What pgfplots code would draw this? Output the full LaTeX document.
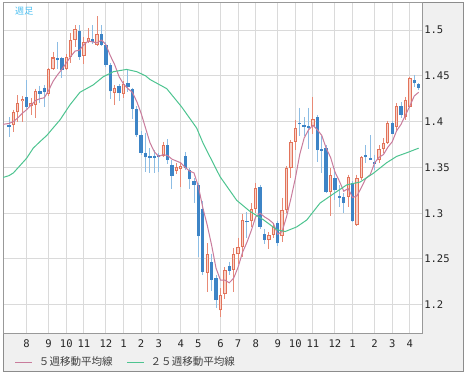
\documentclass[border=0pt]{standalone}
\usepackage{pgfplots}
\pgfplotsset{compat=1.18}
\usepackage{pgfplotstable}
\usepackage{fontspec}
\setmainfont{DejaVu Sans}
\newfontfamily\monofont{DejaVu Sans Mono}
\newfontfamily\cjk{Noto Sans CJK JP}

\definecolor{bggray}{HTML}{F0F0F0}
\definecolor{outergray}{HTML}{8C8C8C}
\definecolor{framegray}{HTML}{999999}
\definecolor{gridgray}{HTML}{DADADA}
\definecolor{upline}{HTML}{E2735A}
\definecolor{upfill}{HTML}{F8D2C8}
\definecolor{upwick}{HTML}{E88A76}
\definecolor{downbody}{HTML}{3D84C6}
\definecolor{downwick}{HTML}{8DBDE4}
\definecolor{maFive}{HTML}{C97C9C}
\definecolor{maTwentyFive}{HTML}{4DC490}
\definecolor{labelcyan}{HTML}{4CC0F2}
\definecolor{legtext}{HTML}{404040}

% weekly candles, rising weeks
\pgfplotstableread{
i o h l c
1 1.396 1.413 1.389 1.410
2 1.410 1.429 1.400 1.420
3 1.422 1.428 1.400 1.425
5 1.417 1.426 1.407 1.420
6 1.418 1.436 1.404 1.433
9 1.430 1.458 1.428 1.457
10 1.457 1.476 1.456 1.470
13 1.457 1.474 1.456 1.471
14 1.471 1.497 1.464 1.489
15 1.489 1.505 1.482 1.501
17 1.472 1.492 1.463 1.487
18 1.487 1.502 1.486 1.491
20 1.484 1.515 1.483 1.496
24 1.431 1.440 1.418 1.437
26 1.430 1.444 1.426 1.441
35 1.362 1.378 1.361 1.375
38 1.346 1.355 1.343 1.350
39 1.348 1.356 1.329 1.351
45 1.235 1.267 1.214 1.255
48 1.194 1.218 1.187 1.211
49 1.212 1.241 1.206 1.238
51 1.238 1.262 1.214 1.255
52 1.255 1.273 1.245 1.263
53 1.263 1.299 1.252 1.293
55 1.291 1.311 1.285 1.305
56 1.305 1.333 1.300 1.327
59 1.271 1.279 1.261 1.276
60 1.276 1.289 1.273 1.285
62 1.275 1.317 1.269 1.303
63 1.303 1.351 1.300 1.349
64 1.349 1.380 1.338 1.378
65 1.378 1.402 1.369 1.393
69 1.395 1.427 1.387 1.403
73 1.323 1.349 1.297 1.342
77 1.318 1.342 1.307 1.340
79 1.287 1.342 1.286 1.338
80 1.338 1.362 1.336 1.361
84 1.358 1.374 1.355 1.370
85 1.370 1.382 1.366 1.377
86 1.377 1.401 1.376 1.399
88 1.394 1.420 1.391 1.417
90 1.405 1.427 1.402 1.424
91 1.416 1.449 1.415 1.448
}\up

% weekly candles, falling weeks
\pgfplotstableread{
i o h l c
0 1.396 1.405 1.383 1.394
4 1.427 1.445 1.413 1.416
7 1.433 1.439 1.420 1.430
8 1.437 1.440 1.416 1.432
11 1.469 1.487 1.457 1.467
12 1.469 1.471 1.448 1.456
16 1.499 1.505 1.467 1.471
19 1.490 1.505 1.485 1.487
21 1.496 1.505 1.483 1.484
22 1.484 1.487 1.460 1.462
23 1.462 1.464 1.425 1.433
25 1.439 1.441 1.422 1.431
27 1.442 1.456 1.432 1.438
28 1.436 1.437 1.403 1.414
29 1.414 1.417 1.383 1.385
30 1.385 1.390 1.363 1.366
31 1.366 1.388 1.345 1.361
32 1.362 1.371 1.344 1.360
33 1.362 1.369 1.344 1.360
34 1.363 1.366 1.345 1.361
36 1.375 1.381 1.354 1.358
37 1.353 1.358 1.326 1.341
40 1.362 1.367 1.347 1.349
41 1.347 1.349 1.326 1.337
42 1.335 1.338 1.311 1.331
43 1.331 1.333 1.252 1.275
44 1.305 1.313 1.233 1.236
46 1.247 1.256 1.215 1.227
47 1.229 1.232 1.196 1.205
50 1.242 1.247 1.232 1.237
54 1.292 1.301 1.273 1.290
57 1.329 1.331 1.283 1.285
58 1.277 1.283 1.266 1.271
61 1.289 1.292 1.264 1.267
66 1.399 1.415 1.384 1.397
67 1.396 1.405 1.384 1.394
68 1.395 1.415 1.370 1.393
70 1.405 1.407 1.356 1.369
71 1.370 1.384 1.344 1.368
72 1.371 1.374 1.322 1.323
74 1.338 1.349 1.314 1.325
75 1.319 1.331 1.307 1.317
76 1.318 1.322 1.300 1.311
78 1.333 1.335 1.290 1.291
81 1.364 1.374 1.355 1.361
82 1.360 1.385 1.358 1.358
83 1.356 1.364 1.347 1.354
87 1.399 1.401 1.386 1.387
89 1.417 1.421 1.404 1.407
92 1.445 1.451 1.438 1.442
93 1.441 1.442 1.434 1.437
}\down

\begin{document}
\begin{tikzpicture}
% page background and outer panel
\fill[white] (0pt,0pt) rectangle (348.75pt,282pt);
\fill[bggray] (2.25pt,3.75pt) rectangle (347.25pt,279.75pt);
\draw[outergray, line width=0.75pt] (2.25pt,3.75pt) rectangle (347.25pt,279.75pt);

\begin{axis}[
  at={(2.25pt,32.25pt)}, anchor=south west,
  scale only axis, width=314.25pt, height=247.5pt,
  xmin=-1.362, xmax=93.76, ymin=1.1692, ymax=1.5295,
  axis background/.style={fill=white},
  axis line style={draw=framegray, line width=0.75pt},
  grid=major, major grid style={draw=gridgray, line width=0.75pt},
  major tick length=0pt,
  xtick={4,9,13,17,22,26,30,34,39,43,48,52,56,61,65,69,74,78,83,87,91},
  xticklabels={8,9,10,11,12,1,2,3,4,5,6,7,8,9,10,11,12,1,2,3,4},
  ytick={1.2,1.25,1.3,1.35,1.4,1.45,1.5},
  yticklabels={1.2,1.25,1.3,1.35,1.4,1.45,1.5},
  yticklabel pos=right,
  tick label style={font=\monofont\fontsize{7.9}{9}\selectfont, text=black!85},
  yticklabel style={anchor=west, inner sep=0pt, xshift=1.5pt},
  xticklabel style={anchor=base, inner sep=0pt, yshift=-10.9pt},
  legend style={at={(0.0286,-0.088)}, anchor=west, draw=none, fill=none,
    inner sep=0pt, outer sep=0pt, legend columns=-1,
    font=\cjk\fontsize{7.9}{9}\selectfont, text=legtext,
    nodes={inner sep=0pt},
    /tikz/every odd column/.append style={column sep=4.5pt},
    /tikz/every even column/.append style={column sep=10.5pt}},
  legend image code/.code={\draw[#1] (0pt,0pt) -- (12.75pt,0pt);},
  candle/.style={forget plot, draw=none, mark=none},
]
% wicks
\addplot[candle,
  error bars/.cd, y dir=minus, y explicit, error mark=none,
  error bar style={draw=upwick, line width=0.75pt}]
  table[x=i, y=h, y error minus expr=\thisrow{h}-\thisrow{l}] {\up};
\addplot[candle,
  error bars/.cd, y dir=minus, y explicit, error mark=none,
  error bar style={draw=downwick, line width=0.75pt}]
  table[x=i, y=h, y error minus expr=\thisrow{h}-\thisrow{l}] {\down};
% bodies, falling weeks
\addplot[candle,
  error bars/.cd, y dir=plus, y explicit, error mark=none,
  error bar style={draw=downbody, line width=2.5pt, line cap=butt}]
  table[x=i, y=c, y error plus expr=\thisrow{o}-\thisrow{c}] {\down};
% bodies, rising weeks (outline, then pale inside)
\addplot[candle,
  error bars/.cd, y dir=plus, y explicit, error mark=none,
  error bar style={draw=upline, line width=2.5pt, line cap=butt}]
  table[x=i, y=o, y error plus expr=\thisrow{c}-\thisrow{o}] {\up};
\addplot[candle,
  error bars/.cd, y dir=plus, y explicit, error mark=none,
  error bar style={draw=upfill, line width=1.0pt, line cap=butt}]
  table[x=i, y expr=\thisrow{o}+0.0011, y error plus expr={max(\thisrow{c}-\thisrow{o}-0.0022,0)}] {\up};

% 5-week moving average
\addplot[maFive, line width=0.75pt] coordinates {
(-1.36,1.397) (0,1.398) (1,1.400) (2,1.404) (3,1.409) (4,1.413) (5,1.418)
(6,1.423) (7,1.425) (8,1.426) (9,1.434) (10,1.444) (11,1.451) (12,1.457)
(13,1.464) (14,1.471) (15,1.477) (16,1.478) (17,1.484) (18,1.488) (19,1.487)
(20,1.486) (21,1.489) (22,1.484) (23,1.472) (24,1.462) (25,1.449) (26,1.441)
(27,1.436) (28,1.432) (29,1.422) (30,1.409) (31,1.393) (32,1.377) (33,1.367)
(34,1.362) (35,1.364) (36,1.363) (37,1.359) (38,1.357) (39,1.355) (40,1.350)
(41,1.346) (42,1.344) (43,1.329) (44,1.306) (45,1.287) (46,1.265) (47,1.240)
(48,1.227) (49,1.227) (50,1.224) (51,1.229) (52,1.241) (53,1.257) (54,1.268)
(55,1.281) (56,1.296) (57,1.300) (58,1.296) (59,1.293) (60,1.289) (61,1.277)
(62,1.280) (63,1.296) (64,1.316) (65,1.338) (66,1.364) (67,1.382) (68,1.391)
(69,1.396) (70,1.391) (71,1.385) (72,1.371) (73,1.361) (74,1.345) (75,1.335)
(76,1.324) (77,1.327) (78,1.317) (79,1.319) (80,1.328) (81,1.338) (82,1.342)
(83,1.355) (84,1.361) (85,1.364) (86,1.372) (87,1.378) (88,1.390) (89,1.397)
(90,1.407) (91,1.417) (92,1.428) (93,1.432)
};
\addlegendentry{５週移動平均線}

% 25-week moving average
\addplot[maTwentyFive, line width=0.75pt] coordinates {
(-1.36,1.339) (0,1.341) (1,1.344) (2.5,1.352) (4,1.360) (5.5,1.371) (7,1.378)
(8.6,1.385) (10,1.393) (11.6,1.402) (13.8,1.418) (16.1,1.432) (19.1,1.440)
(21.4,1.449) (23.7,1.4545) (26.7,1.457) (29,1.4545) (31,1.450) (32,1.446)
(35.8,1.436) (39.2,1.416) (42.6,1.393) (44.1,1.376) (47.9,1.340) (51.7,1.314)
(54.7,1.302) (57.7,1.293) (60.8,1.282) (62.7,1.280) (65.3,1.285) (67.6,1.2926)
(70.6,1.311) (73.6,1.321) (76.7,1.331) (79.7,1.334) (82.7,1.3435) (85.7,1.355)
(88,1.362) (90.3,1.366) (93,1.371)
};
\addlegendentry{２５週移動平均線}

\node[anchor=west, inner sep=0pt, text=labelcyan, font=\cjk\fontsize{6.8}{8}\selectfont]
  at (rel axis cs:0.0286,0.974) {週足};
\end{axis}
\end{tikzpicture}
\end{document}
